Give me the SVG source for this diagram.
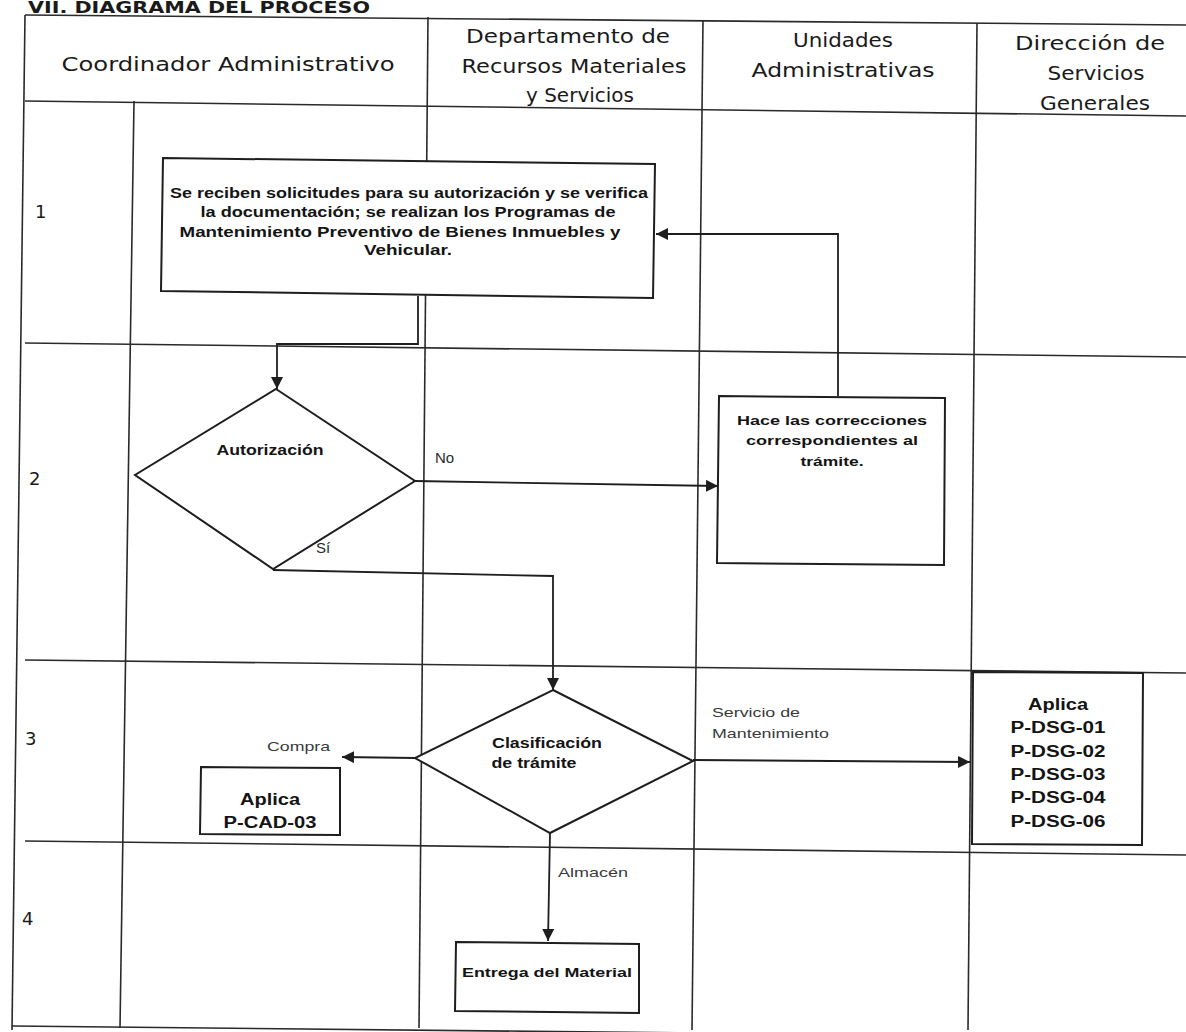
<svg xmlns="http://www.w3.org/2000/svg" width="1186" height="1032" viewBox="0 0 1186 1032">
  <style>
    .grid { stroke: #2a2a2a; stroke-width: 1.6; fill: none; }
    .node { stroke: #1e1e1e; stroke-width: 2; fill: #ffffff; }
    .conn { stroke: #1e1e1e; stroke-width: 1.8; fill: none; }
    .hdr { font-family: "DejaVu Sans", "Liberation Sans", sans-serif; font-size: 20px; fill: #1a1a1a; text-anchor: middle; }
    .num { font-family: "DejaVu Sans", "Liberation Sans", sans-serif; font-size: 18px; fill: #1a1a1a; }
    .title { font-family: "DejaVu Sans", "Liberation Sans", sans-serif; font-size: 16px; font-weight: bold; fill: #1a1a1a; }
    .bt { font-family: "Liberation Sans", Arial, sans-serif; font-weight: bold; fill: #141414; text-anchor: middle; }
    .lbl { font-family: "Liberation Sans", Arial, sans-serif; font-size: 13px; fill: #3a3a3a; }
    .yn { font-family: "Liberation Sans", Arial, sans-serif; font-size: 15px; fill: #2a2a2a; }
  </style>
  <defs>
    <marker id="arrow" viewBox="0 0 10 10" refX="10" refY="5" markerWidth="12" markerHeight="12" markerUnits="userSpaceOnUse" orient="auto">
      <path d="M0,0 L10,5 L0,10 z" fill="#1e1e1e"/>
    </marker>
  </defs>

  <rect x="0" y="0" width="1186" height="1032" fill="#ffffff"/>

  <text class="title" x="28" y="13" textLength="342" lengthAdjust="spacingAndGlyphs">VII. DIAGRAMA DEL PROCESO</text>

  <!-- swimlane table -->
  <g id="table">
    <line class="grid" x1="25" y1="15" x2="1186" y2="25"/>
    <line class="grid" x1="25" y1="15" x2="12" y2="1030"/>
    <line class="grid" x1="25" y1="101" x2="1186" y2="116"/>
    <line class="grid" x1="134" y1="101" x2="120" y2="1028"/>
    <line class="grid" x1="428" y1="17" x2="419" y2="1028"/>
    <line class="grid" x1="703" y1="20" x2="692" y2="1030"/>
    <line class="grid" x1="977" y1="23" x2="968" y2="1030"/>
    <line class="grid" x1="25" y1="343" x2="1186" y2="357"/>
    <line class="grid" x1="25" y1="660" x2="1186" y2="673"/>
    <line class="grid" x1="25" y1="841" x2="1186" y2="855"/>
    <line class="grid" x1="12" y1="1026" x2="1186" y2="1038"/>

    <text class="hdr" x="228" y="71" textLength="333" lengthAdjust="spacingAndGlyphs">Coordinador Administrativo</text>
    <text class="hdr" x="568" y="43" textLength="204" lengthAdjust="spacingAndGlyphs">Departamento de</text>
    <text class="hdr" x="574" y="73" textLength="225" lengthAdjust="spacingAndGlyphs">Recursos Materiales</text>
    <text class="hdr" x="580" y="102">y Servicios</text>
    <text class="hdr" x="843" y="47" textLength="100" lengthAdjust="spacingAndGlyphs">Unidades</text>
    <text class="hdr" x="843" y="77" textLength="183" lengthAdjust="spacingAndGlyphs">Administrativas</text>
    <text class="hdr" x="1090" y="50" textLength="150" lengthAdjust="spacingAndGlyphs">Dirección de</text>
    <text class="hdr" x="1096" y="80" textLength="97" lengthAdjust="spacingAndGlyphs">Servicios</text>
    <text class="hdr" x="1095" y="110" textLength="110" lengthAdjust="spacingAndGlyphs">Generales</text>

    <text class="num" x="35" y="218">1</text>
    <text class="num" x="29" y="485">2</text>
    <text class="num" x="25" y="745">3</text>
    <text class="num" x="22" y="925">4</text>
  </g>

  <!-- connectors -->
  <g id="connectors">
    <path class="conn" d="M418,296 V344 H277 V389" marker-end="url(#arrow)"/>
    <path class="conn" d="M415,481 L718,486" marker-end="url(#arrow)"/>
    <path class="conn" d="M838,396 V234 H656" marker-end="url(#arrow)"/>
    <path class="conn" d="M273,570 L553,576 V690" marker-end="url(#arrow)"/>
    <path class="conn" d="M415,758 L342,757" marker-end="url(#arrow)"/>
    <path class="conn" d="M693,760 L970,762" marker-end="url(#arrow)"/>
    <path class="conn" d="M550,833 L548,941" marker-end="url(#arrow)"/>

    <text class="yn" x="435" y="463">No</text>
    <text class="yn" x="316" y="553">Sí</text>
    <text class="lbl" x="267" y="751" textLength="63" lengthAdjust="spacingAndGlyphs">Compra</text>
    <text class="lbl" x="712" y="717" textLength="88" lengthAdjust="spacingAndGlyphs">Servicio de</text>
    <text class="lbl" x="712" y="738" textLength="117" lengthAdjust="spacingAndGlyphs">Mantenimiento</text>
    <text class="lbl" x="558" y="877" textLength="70" lengthAdjust="spacingAndGlyphs">Almacén</text>
  </g>

  <!-- process nodes -->
  <g id="recepcion">
    <polygon class="node" points="163,158 655,164 653,298 161,291"/>
    <text class="bt" font-size="14" x="409" y="198" textLength="478" lengthAdjust="spacingAndGlyphs">Se reciben solicitudes para su autorización y se verifica</text>
    <text class="bt" font-size="14" x="408" y="217" textLength="415" lengthAdjust="spacingAndGlyphs">la documentación; se realizan los Programas de</text>
    <text class="bt" font-size="14" x="400" y="237" textLength="441" lengthAdjust="spacingAndGlyphs">Mantenimiento Preventivo de Bienes Inmuebles y</text>
    <text class="bt" font-size="14" x="408" y="255" textLength="88" lengthAdjust="spacingAndGlyphs">Vehicular.</text>
  </g>

  <g id="autorizacion">
    <polygon class="node" points="276,389 415,481 273,569 135,475"/>
    <text class="bt" font-size="14" x="270" y="455" textLength="107" lengthAdjust="spacingAndGlyphs">Autorización</text>
  </g>

  <g id="correcciones">
    <polygon class="node" points="719,396 945,398 944,565 717,563"/>
    <text class="bt" font-size="13.5" x="832" y="425" textLength="190" lengthAdjust="spacingAndGlyphs">Hace las correcciones</text>
    <text class="bt" font-size="13.5" x="832" y="445" textLength="172" lengthAdjust="spacingAndGlyphs">correspondientes al</text>
    <text class="bt" font-size="13.5" x="832" y="466" textLength="63" lengthAdjust="spacingAndGlyphs">trámite.</text>
  </g>

  <g id="clasificacion">
    <polygon class="node" points="553,690 693,761 550,833 415,758"/>
    <text class="bt" font-size="14" x="547" y="748" textLength="110" lengthAdjust="spacingAndGlyphs">Clasificación</text>
    <text class="bt" font-size="14" x="534" y="768" textLength="85" lengthAdjust="spacingAndGlyphs">de trámite</text>
  </g>

  <g id="compra">
    <polygon class="node" points="201,767 340,768 340,835 200,834"/>
    <text class="bt" font-size="16" x="270" y="805" textLength="60" lengthAdjust="spacingAndGlyphs">Aplica</text>
    <text class="bt" font-size="16" x="270" y="828" textLength="93" lengthAdjust="spacingAndGlyphs">P-CAD-03</text>
  </g>

  <g id="mantenimiento">
    <polygon class="node" points="973,672 1143,673 1142,845 972,844"/>
    <text class="bt" font-size="16" x="1058" y="710" textLength="60" lengthAdjust="spacingAndGlyphs">Aplica</text>
    <text class="bt" font-size="16" x="1058" y="733" textLength="95" lengthAdjust="spacingAndGlyphs">P-DSG-01</text>
    <text class="bt" font-size="16" x="1058" y="757" textLength="95" lengthAdjust="spacingAndGlyphs">P-DSG-02</text>
    <text class="bt" font-size="16" x="1058" y="780" textLength="95" lengthAdjust="spacingAndGlyphs">P-DSG-03</text>
    <text class="bt" font-size="16" x="1058" y="803" textLength="95" lengthAdjust="spacingAndGlyphs">P-DSG-04</text>
    <text class="bt" font-size="16" x="1058" y="827" textLength="95" lengthAdjust="spacingAndGlyphs">P-DSG-06</text>
  </g>

  <g id="entrega">
    <polygon class="node" points="456,942 639,944 639,1013 455,1011"/>
    <text class="bt" font-size="13.5" x="547" y="977" textLength="170" lengthAdjust="spacingAndGlyphs">Entrega del Material</text>
  </g>
</svg>
